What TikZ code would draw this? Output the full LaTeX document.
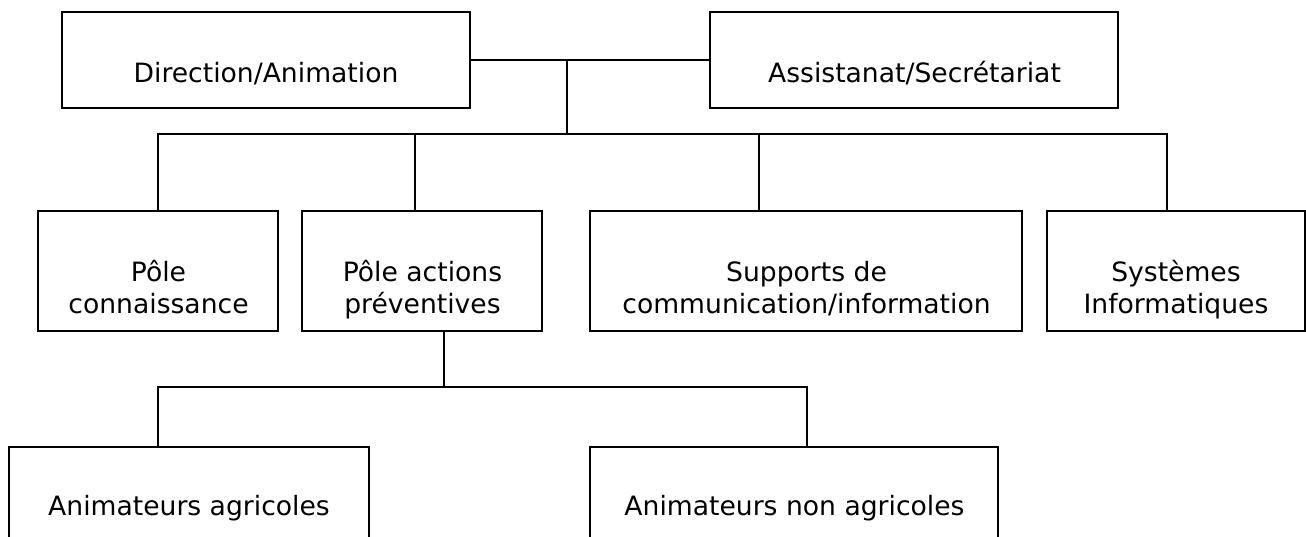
\documentclass[tikz,border=0pt]{standalone}
\usepackage{fontspec}
\setmainfont{DejaVu Sans}
\begin{document}
\begin{tikzpicture}[x=1pt,y=-1pt,
  box/.style={draw,line width=1.6pt,inner sep=0pt,outer sep=0pt,rectangle},
  lbl/.style={font=\fontsize{26.6}{31.5}\selectfont,inner sep=0pt,anchor=base,align=center},
  conn/.style={line width=1.6pt}]
\useasboundingbox (0,0) rectangle (1306,536);
% row 1
\node[box,minimum width=408pt,minimum height=96pt] (dir) at (266,60) {};
\node[box,minimum width=408pt,minimum height=96pt] (asst) at (914,60) {};
\node[lbl] (dirT) at (266,82) {Direction/Animation};
\node[lbl] (asstT) at (914.5,82) {Assistanat/Secrétariat};
% row 2
\node[box,minimum width=240pt,minimum height=120pt] (pc) at (158,271) {};
\node[box,minimum width=240pt,minimum height=120pt] (pa) at (422,271) {};
\node[box,minimum width=432pt,minimum height=120pt] (sup) at (806,271) {};
\node[box,minimum width=258pt,minimum height=120pt] (sys) at (1176,271) {};
\node[lbl] (pcT) at (158.5,313) {Pôle\\connaissance};
\node[lbl] (paT) at (422.5,313) {Pôle actions\\préventives};
\node[lbl] (supT) at (806.5,313) {Supports de\\communication/information};
\node[lbl] (sysT) at (1176,313) {Systèmes\\Informatiques};
% row 3
\node[box,minimum width=360pt,minimum height=114pt] (aa) at (189,504) {};
\node[box,minimum width=408pt,minimum height=114pt] (ana) at (794,504) {};
\node[lbl] (aaT) at (189,515) {Animateurs agricoles};
\node[lbl] (anaT) at (794.5,515) {Animateurs non agricoles};
% connectors
\coordinate (j1) at (567,60);
\coordinate (j2) at (567,134);
\coordinate (j3) at (444,387);
\draw[conn] (dir.east) -- (asst.west);
\draw[conn] (j1) -- (j2);
\draw[conn] (pc.north) -- (pc.north |- j2) -- ([xshift=-9pt]sys.north |- j2) -- ([xshift=-9pt]sys.north);
\draw[conn] ([xshift=-7pt]pa.north) -- ([xshift=-7pt]pa.north |- j2);
\draw[conn] ([xshift=-47pt]sup.north) -- ([xshift=-47pt]sup.north |- j2);
\draw[conn] ([xshift=22pt]pa.south) -- (j3);
\draw[conn] ([xshift=-31pt]aa.north) -- ([xshift=-31pt]aa.north |- j3) -- ([xshift=13pt]ana.north |- j3) -- ([xshift=13pt]ana.north);
\end{tikzpicture}
\end{document}
